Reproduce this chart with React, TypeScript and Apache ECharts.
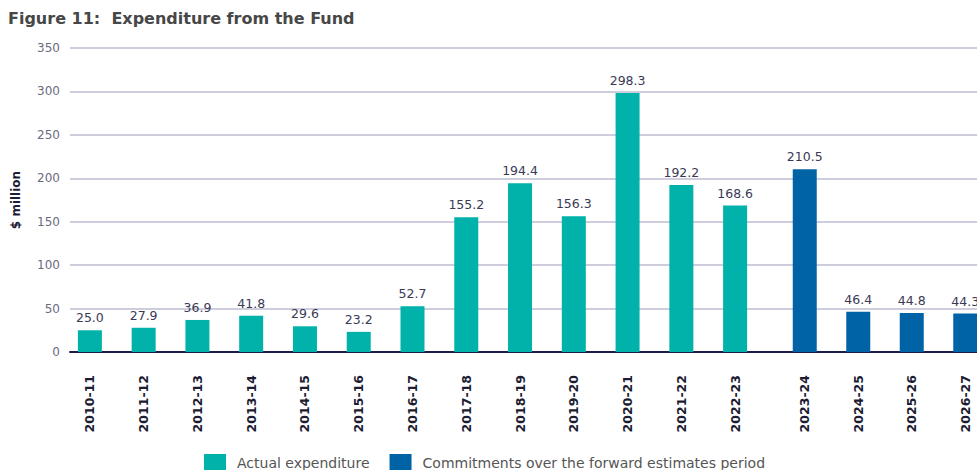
import React, { useEffect, useRef } from "react";
import * as echarts from "echarts";

const actualYears = ["2010-11", "2011-12", "2012-13", "2013-14", "2014-15", "2015-16", "2016-17", "2017-18", "2018-19", "2019-20", "2020-21", "2021-22", "2022-23"];
const actualValues = [25.0, 27.9, 36.9, 41.8, 29.6, 23.2, 52.7, 155.2, 194.4, 156.3, 298.3, 192.2, 168.6];
const commitYears = ["2023-24", "2024-25", "2025-26", "2026-27"];
const commitValues = [210.5, 46.4, 44.8, 44.3];
const yTicks = { min: 0, max: 350, interval: 50 };

const TEAL = "#00b2a9";
const BLUE = "#0063a6";
const FONT = "'DejaVu Sans', sans-serif";

export default function App() {
  const ref = useRef<HTMLDivElement>(null);
  useEffect(() => {
    if (!ref.current) return;
    const chart = echarts.init(ref.current, null, { renderer: "svg" });
    const top = 48;
    const height = 304;
    const xLabel = {
      rotate: 90,
      margin: 23,
      fontFamily: FONT,
      fontWeight: "bold",
      fontSize: 12.5,
      color: "#1c1c33",
    };
    const barLabel = {
      show: true,
      position: "top",
      distance: 6,
      fontFamily: FONT,
      fontSize: 12.5,
      color: "#3a3a55",
      formatter: (p: any) => Number(p.value).toFixed(1),
    };
    chart.setOption({
      animation: false,
      title: {
        text: "Figure 11:  Expenditure from the Fund",
        left: 3,
        top: 5,
        textStyle: { fontFamily: FONT, fontWeight: "bold", fontSize: 16, color: "#474747" },
      },
      legend: {
        left: 199,
        top: 449,
        itemWidth: 22,
        itemHeight: 18,
        itemGap: 20,
        textStyle: { fontFamily: FONT, fontSize: 14, lineHeight: 14, color: "#555", padding: [0, 0, 0, 6] },
        data: [
          { name: "Actual expenditure", icon: "rect" },
          { name: "Commitments over the forward estimates period", icon: "rect" },
        ],
      },
      grid: [
        { left: 70, right: 0, top, height },
        { left: 63, width: 699, top, height },
        { left: 778, width: 214, top, height },
      ],
      xAxis: [
        {
          gridIndex: 0,
          type: "category",
          data: [""],
          axisLine: { show: true, lineStyle: { color: "#1c1c4c", width: 2 } },
          axisTick: { show: false },
          axisLabel: { show: false },
        },
        {
          gridIndex: 1,
          type: "category",
          data: actualYears,
          axisLine: { show: false },
          axisTick: { show: false },
          axisLabel: xLabel,
        },
        {
          gridIndex: 2,
          type: "category",
          data: commitYears,
          axisLine: { show: false },
          axisTick: { show: false },
          axisLabel: xLabel,
        },
      ],
      yAxis: [
        {
          gridIndex: 0,
          type: "value",
          ...yTicks,
          name: "$ million",
          nameLocation: "middle",
          nameGap: 48,
          nameTextStyle: { fontFamily: FONT, fontWeight: "bold", fontSize: 12, color: "#1c1c33" },
          axisLine: { show: false },
          axisTick: { show: false },
          axisLabel: { fontFamily: FONT, fontSize: 12, color: "#6b6b80", margin: 10 },
          splitLine: { lineStyle: { color: "#bdbdd2", width: 1.5 } },
        },
        { gridIndex: 1, type: "value", ...yTicks, show: false, splitLine: { show: false } },
        { gridIndex: 2, type: "value", ...yTicks, show: false, splitLine: { show: false } },
      ],
      series: [
        {
          name: "Actual expenditure",
          type: "bar",
          xAxisIndex: 1,
          yAxisIndex: 1,
          data: actualValues,
          barWidth: 24,
          itemStyle: { color: TEAL },
          label: barLabel,
        },
        {
          name: "Commitments over the forward estimates period",
          type: "bar",
          xAxisIndex: 2,
          yAxisIndex: 2,
          data: commitValues,
          barWidth: 24,
          itemStyle: { color: BLUE },
          label: barLabel,
        },
      ],
    });
    return () => chart.dispose();
  }, []);
  return (
    <div style={{ position: "absolute", left: 0, top: 0, width: 977, height: 470, overflow: "hidden" }}>
      <div ref={ref} style={{ width: 1000, height: 470 }} />
    </div>
  );
}
